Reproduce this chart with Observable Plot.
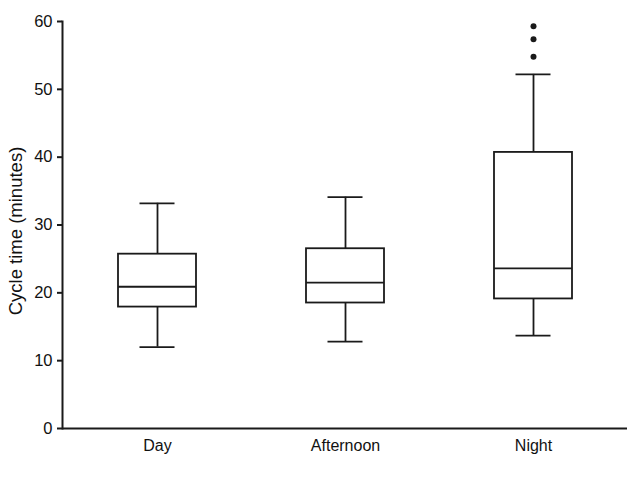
<!DOCTYPE html>
<html><head><meta charset="utf-8">
<script src="https://cdn.jsdelivr.net/npm/d3@7"></script>
<script src="https://cdn.jsdelivr.net/npm/@observablehq/plot@0.6"></script>
<style>body{margin:0;background:#fff;} svg{display:block;}</style>
</head><body><div id="chart"></div>
<script>
const categories = ["Day", "Afternoon", "Night"];
const whiskerLow = [12.0, 12.8, 13.7];
const q1 = [17.9, 18.5, 19.1];
const median = [20.9, 21.5, 23.6];
const q3 = [25.7, 26.5, 40.7];
const whiskerHigh = [33.2, 34.1, 52.2];
const outlierCategory = ["Night", "Night", "Night"];
const outlierValue = [54.8, 57.4, 59.3];
const yTicks = [0, 10, 20, 30, 40, 50, 60];

const boxes = categories.map((c, i) => ({
  cat: c, lo: whiskerLow[i], q1: q1[i], med: median[i], q3: q3[i], hi: whiskerHigh[i]
}));
const outliers = outlierCategory.map((c, i) => ({cat: c, v: outlierValue[i]}));

const stroke = "#1a1a1a";
const sw = 1.8;

const chart = Plot.plot({
  width: 640,
  height: 480,
  marginLeft: 62,
  marginRight: 13,
  marginTop: 21,
  marginBottom: 52,
  style: {fontFamily: "'Liberation Sans', Arial, sans-serif", fontSize: "16px", color: "#111", background: "#fff"},
  x: {type: "band", domain: categories, padding: 0, label: null},
  y: {domain: [0, 60], label: null},
  marks: [
    Plot.ruleX(boxes, {x: "cat", y1: "lo", y2: "q1", stroke, strokeWidth: sw}),
    Plot.ruleX(boxes, {x: "cat", y1: "q3", y2: "hi", stroke, strokeWidth: sw}),
    Plot.barY(boxes, {x: "cat", y1: "q1", y2: "q3", fill: "none", stroke, strokeWidth: sw, insetLeft: 55, insetRight: 55}),
    Plot.tickY(boxes, {x: "cat", y: "med", stroke, strokeWidth: sw, insetLeft: 55, insetRight: 55}),
    Plot.tickY(boxes, {x: "cat", y: "lo", stroke, strokeWidth: sw, insetLeft: 76.5, insetRight: 76.5}),
    Plot.tickY(boxes, {x: "cat", y: "hi", stroke, strokeWidth: sw, insetLeft: 76.5, insetRight: 76.5}),
    Plot.dot(outliers, {x: "cat", y: "v", r: 3, fill: stroke, stroke: "none"}),
    Plot.ruleY([0], {stroke, strokeWidth: 2}),
    Plot.frame({anchor: "left", stroke, strokeWidth: 2}),
    Plot.axisY({ticks: yTicks, tickSize: 5, tickPadding: 5, stroke, strokeWidth: 2, label: null, fontSize: 16.5}),
    Plot.axisX({tickSize: 0, tickPadding: 11, label: null, fontSize: 16}),
    Plot.text(["Cycle time (minutes)"], {frameAnchor: "left", textAnchor: "middle", dx: -46.5, dy: 6, rotate: -90, fontSize: 18.5, fill: "#111"})
  ]
});
document.getElementById("chart").appendChild(chart);
</script></body></html>
